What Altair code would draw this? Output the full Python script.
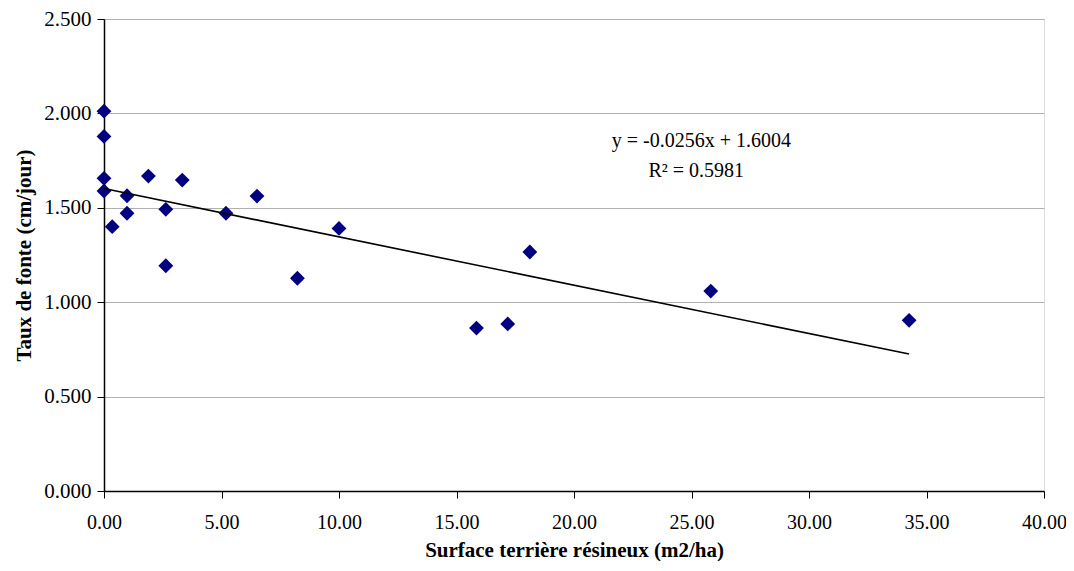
import altair as alt
import pandas as pd

# Data
surface = [0.0, 0.0, 0.0, 0.0, 0.35, 0.98, 0.98, 1.89, 2.63, 2.63, 3.33,
           5.19, 6.51, 8.23, 10.0, 15.85, 17.18, 18.12, 25.82, 34.26]
taux = [2.012, 1.878, 1.656, 1.589, 1.400, 1.564, 1.471, 1.668, 1.492, 1.193,
        1.647, 1.471, 1.562, 1.127, 1.391, 0.863, 0.885, 1.266, 1.059, 0.904]

eq_lines = ["y = -0.0256x + 1.6004", "R² = 0.5981"]
eq_x = [25.42, 25.2]
eq_y = [1.855, 1.695]

x_ticks = [0, 5, 10, 15, 20, 25, 30, 35, 40]
y_ticks = [0, 0.5, 1.0, 1.5, 2.0, 2.5]

df = pd.DataFrame({"x": surface, "y": taux})
eq = pd.DataFrame({"t": eq_lines, "x": eq_x, "y": eq_y})

FONT = "Liberation Serif"

xs = alt.Scale(domain=[0, 40], nice=False, zero=False)
ys = alt.Scale(domain=[0, 2.5], nice=False)

xaxis = alt.Axis(
    values=x_ticks, format=".2f", grid=False,
    domainColor="black", domainWidth=1.5, tickColor="black", tickSize=7,
    labelPadding=14, labelFontSize=20, labelFont=FONT, labelColor="black",
    title="Surface terrière résineux (m2/ha)", titleFont=FONT, titleFontSize=21,
    titleFontWeight="bold", titleColor="black", titlePadding=7,
    labelFlush=False,
)
yaxis = alt.Axis(
    values=y_ticks, format=".3f", grid=True,
    gridColor="#b0b0b0", gridWidth=1,
    domainColor="black", domainWidth=1.5, tickColor="black", tickSize=7,
    labelPadding=6, labelFontSize=21, labelFont=FONT, labelColor="black",
    title="Taux de fonte (cm/jour)", titleFont=FONT, titleFontSize=21,
    titleFontWeight="bold", titleColor="black", titlePadding=9,
    labelFlush=False,
)

points = alt.Chart(df).mark_point(
    shape="diamond", filled=True, color="#000080", size=220, opacity=1
).encode(
    x=alt.X("x:Q", scale=xs, axis=xaxis),
    y=alt.Y("y:Q", scale=ys, axis=yaxis),
)

trend = alt.Chart(df).transform_regression("x", "y").mark_line(
    color="black", strokeWidth=1.6
).encode(x=alt.X("x:Q", scale=xs), y=alt.Y("y:Q", scale=ys))

text = alt.Chart(eq).mark_text(
    font=FONT, fontSize=20, color="black", align="center", baseline="middle"
).encode(x=alt.X("x:Q", scale=xs), y=alt.Y("y:Q", scale=ys), text="t:N")

chart = alt.layer(points, trend, text).properties(
    width=940, height=472,
    autosize=alt.AutoSizeParams(type="none"),
    padding={"left": 96, "top": 11, "right": 22, "bottom": 70},
).configure_view(stroke="#a0a0a0", strokeWidth=1).configure(background="white")

chart.save("out.html", embed_options={"renderer": "svg", "actions": False})
